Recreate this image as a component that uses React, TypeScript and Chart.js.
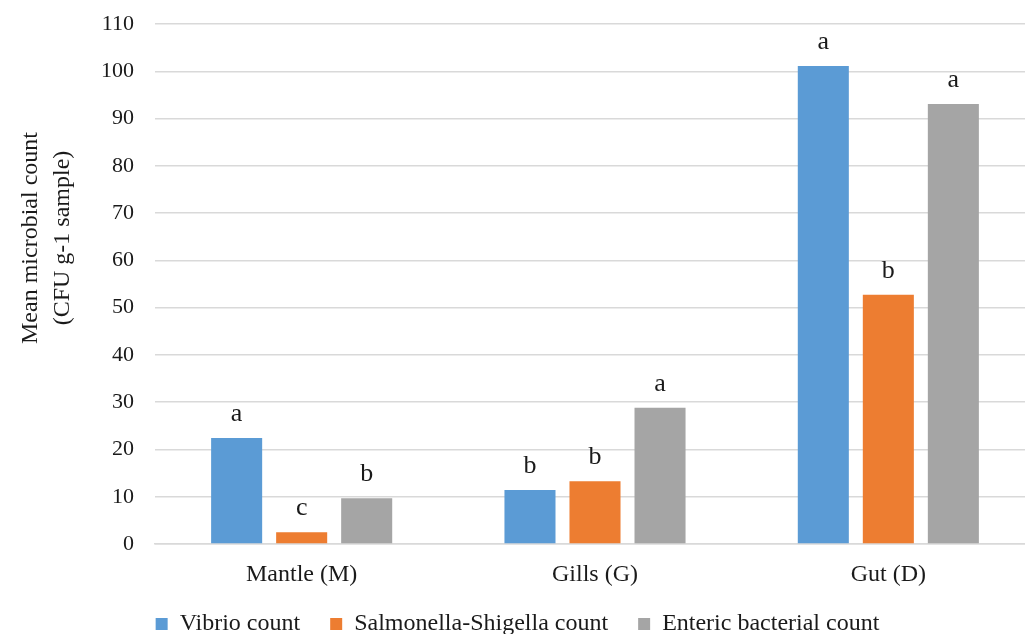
import React, { useEffect, useRef } from "react";
import { Chart, registerables } from "chart.js";

Chart.register(...registerables);

const categories = ["Mantle (M)", "Gills (G)", "Gut (D)"];
const seriesNames = ["Vibrio count", "Salmonella-Shigella count", "Enteric bacterial count"];
const vibrio = [22.4, 11.4, 101.1];
const salmonella = [2.5, 13.3, 52.7];
const enteric = [9.7, 28.8, 93.1];
const vibrioLetters = ["a", "b", "a"];
const salmonellaLetters = ["c", "b", "b"];
const entericLetters = ["b", "a", "a"];
const yTitle = ["Mean microbial count", "(CFU g-1 sample)"];

const FONT = "'Liberation Serif', 'Times New Roman', serif";
const TEXT = "#1a1a1a";

const lettersPlugin = {
  id: "letters",
  afterLayout(chart: any) {
    // let the category labels draw below the shortened x-axis box
    if (chart.scales.x) chart.scales.x.bottom = chart.height;
  },
  afterDatasetsDraw(chart: any) {
    const ctx = chart.ctx;
    const sets = [vibrioLetters, salmonellaLetters, entericLetters];
    ctx.save();
    ctx.font = `26px ${FONT}`;
    ctx.fillStyle = TEXT;
    ctx.textAlign = "center";
    ctx.textBaseline = "alphabetic";
    chart.data.datasets.forEach((_: any, di: number) => {
      const meta = chart.getDatasetMeta(di);
      meta.data.forEach((bar: any, i: number) => {
        ctx.fillText(sets[di][i], bar.x, bar.y - 17);
      });
    });
    ctx.restore();
  },
};

const yTitlePlugin = {
  id: "yTitleCustom",
  afterDraw(chart: any) {
    const ctx = chart.ctx;
    ctx.save();
    ctx.font = `24px ${FONT}`;
    ctx.fillStyle = TEXT;
    ctx.textAlign = "center";
    ctx.textBaseline = "middle";
    const cy = 238;
    yTitle.forEach((line, i) => {
      ctx.save();
      ctx.translate(31 + i * 32, cy);
      ctx.rotate(-Math.PI / 2);
      ctx.fillText(line, 0, 0);
      ctx.restore();
    });
    ctx.restore();
  },
};

export default function App() {
  const ref = useRef<HTMLCanvasElement>(null);
  useEffect(() => {
    document.body.style.margin = "0";
    document.body.style.overflow = "hidden";
    const chart = new Chart(ref.current as HTMLCanvasElement, {
      type: "bar",
      data: {
        labels: categories,
        datasets: [
          { label: seriesNames[0], data: vibrio, backgroundColor: "#5B9BD5" },
          { label: seriesNames[1], data: salmonella, backgroundColor: "#ED7D31" },
          { label: seriesNames[2], data: enteric, backgroundColor: "#A5A5A5" },
        ],
      },
      options: {
        animation: false,
        responsive: true,
        maintainAspectRatio: false,
        layout: { padding: { top: 24, right: 10, left: 0, bottom: 0 } },
        datasets: { bar: { categoryPercentage: 0.665, barPercentage: 0.785 } },
        plugins: {
          tooltip: { enabled: false },
          legend: {
            position: "bottom",
            labels: {
              font: { family: FONT, size: 24 },
              color: TEXT,
              boxWidth: 12,
              boxHeight: 12,
              padding: 30,
            },
          },
        },
        scales: {
          x: {
            afterFit: (scale: any) => {
              scale.height = 38;
            },
            grid: { display: false, drawTicks: false },
            border: { display: true, color: "#D9D9D9", width: 1.5 },
            ticks: { font: { family: FONT, size: 24 }, color: TEXT, padding: 16 },
          },
          y: {
            min: 0,
            max: 110,
            afterFit: (scale: any) => {
              scale.width = 155;
              scale.paddingTop = 0;
              scale.paddingBottom = 0;
            },
            grid: { color: "#D9D9D9", lineWidth: 1.5, drawTicks: false },
            border: { display: false },
            ticks: { stepSize: 10, font: { family: FONT, size: 22 }, color: TEXT, padding: 21 },
          },
        },
      } as any,
      plugins: [lettersPlugin, yTitlePlugin],
    });
    return () => chart.destroy();
  }, []);
  return (
    <div style={{ position: "fixed", left: 0, top: 0, width: 1045, height: 646 }}>
      <canvas ref={ref} />
    </div>
  );
}
